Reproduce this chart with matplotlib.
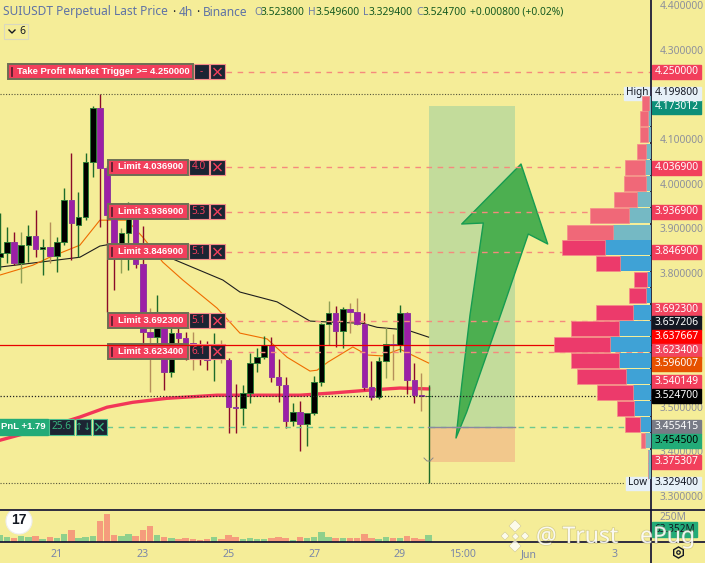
import matplotlib
matplotlib.use("Agg")
import matplotlib.pyplot as plt
import matplotlib.patheffects as pe
from matplotlib.patches import Rectangle, Polygon, Circle
from matplotlib.transforms import blended_transform_factory

plt.rcParams['font.family'] = ['Noto Sans', 'DejaVu Sans']

# candles, one per 4h bar
opens = [3.835, 3.844, 3.869, 3.822, 3.862, 3.882, 3.853, 3.858, 3.838, 3.869,
         3.963, 3.907, 3.925, 4.048, 4.169, 4.035, 3.923, 3.851, 3.889, 3.923,
         3.820, 3.667, 3.656, 3.712, 3.578, 3.665, 3.654, 3.643, 3.638, 3.620,
         3.620, 3.638, 3.605, 3.500, 3.497, 3.531, 3.598, 3.611, 3.638, 3.567,
         3.549, 3.468, 3.488, 3.461, 3.486, 3.555, 3.685, 3.710, 3.670, 3.719,
         3.712, 3.685, 3.544, 3.522, 3.602, 3.640, 3.638, 3.710, 3.560, 3.526, 3.5238]
highs = [3.934, 3.903, 3.891, 3.891, 3.907, 3.941, 3.876, 3.914, 3.880, 3.990,
         4.068, 3.981, 4.068, 4.174, 4.1998, 4.040, 3.930, 3.900, 3.958, 3.952,
         3.905, 3.721, 3.750, 3.712, 3.676, 3.676, 3.667, 3.667, 3.649, 3.647,
         3.665, 3.649, 3.609, 3.551, 3.549, 3.620, 3.631, 3.658, 3.656, 3.607,
         3.567, 3.508, 3.513, 3.486, 3.569, 3.687, 3.737, 3.726, 3.723, 3.732,
         3.743, 3.710, 3.602, 3.611, 3.678, 3.663, 3.728, 3.712, 3.598, 3.575, 3.5496]
lows = [3.806, 3.822, 3.817, 3.777, 3.824, 3.835, 3.795, 3.822, 3.802, 3.862,
        3.829, 3.835, 3.918, 4.014, 3.903, 3.712, 3.761, 3.799, 3.806, 3.811,
        3.643, 3.533, 3.638, 3.537, 3.567, 3.643, 3.605, 3.582, 3.593, 3.582,
        3.558, 3.598, 3.441, 3.441, 3.459, 3.508, 3.578, 3.607, 3.555, 3.510,
        3.452, 3.457, 3.401, 3.412, 3.481, 3.546, 3.638, 3.634, 3.631, 3.665,
        3.683, 3.537, 3.515, 3.517, 3.564, 3.560, 3.623, 3.528, 3.508, 3.490, 3.3294]
closes = [3.844, 3.869, 3.822, 3.862, 3.882, 3.853, 3.858, 3.838, 3.869, 3.963,
          3.911, 3.925, 4.048, 4.169, 4.035, 3.929, 3.862, 3.889, 3.923, 3.820,
          3.667, 3.656, 3.712, 3.578, 3.665, 3.654, 3.643, 3.623, 3.614, 3.605,
          3.627, 3.609, 3.499, 3.498, 3.531, 3.598, 3.611, 3.638, 3.567, 3.549,
          3.468, 3.488, 3.461, 3.486, 3.555, 3.685, 3.710, 3.670, 3.719, 3.712,
          3.685, 3.544, 3.522, 3.602, 3.640, 3.638, 3.710, 3.560, 3.526, 3.5238, 3.5247]
volumes = [64, 48, 38, 54, 45, 54, 29, 45, 38, 74, 112, 38, 45, 54, 198, 266, 64, 54, 74, 58,
           112, 157, 64, 51, 38, 26, 38, 29, 19, 26, 51, 29, 64, 51, 29, 35, 29, 29, 38, 45,
           38, 22, 45, 35, 51, 96, 51, 38, 42, 42, 35, 74, 38, 29, 48, 38, 38, 58, 38, 29, 64]
faint_bars = [3, 7, 17, 21, 27, 31, 46, 49, 50, 54, 55, 59]

# moving averages read at a few bars
red_ma_x = [0, 4.6, 9.8, 11.2, 15, 18.6, 23.4, 30.4, 42, 46.6, 51.4, 56, 60]
red_ma = [3.425, 3.445, 3.470, 3.477, 3.499, 3.510, 3.519, 3.526, 3.526, 3.531, 3.537, 3.542, 3.540]
black_ma_x = [0, 4.6, 11.2, 14, 15.4, 24.2, 31.2, 33.6, 38.8, 43.4, 45.9, 50.8, 52.8, 57, 60]
black_ma = [3.813, 3.822, 3.835, 3.860, 3.864, 3.831, 3.784, 3.757, 3.735, 3.692, 3.690, 3.687,
            3.678, 3.672, 3.656]
orange_ma_x = [0, 4.6, 7, 11.2, 14, 17.8, 20, 22.8, 25.6, 30.4, 33.6, 37.4, 40.2, 43.4, 44.4,
               45.9, 49.4, 51.4, 53.5, 56, 60]
orange_ma = [3.795, 3.817, 3.835, 3.862, 3.918, 3.918, 3.880, 3.824, 3.784, 3.721, 3.665, 3.652,
             3.611, 3.580, 3.582, 3.600, 3.634, 3.616, 3.614, 3.629, 3.598]

# volume profile, rows top to bottom
profile_prices = [4.180, 4.146, 4.109, 4.072, 4.036, 4.000, 3.964, 3.928, 3.891, 3.857, 3.821, 3.785,
                  3.749, 3.711, 3.675, 3.639, 3.603, 3.568, 3.532, 3.496, 3.460, 3.424, 3.386, 3.356]
profile_up = [2, 3.3, 3.3, 5, 6, 5, 14.3, 22, 38.3, 46, 31, 4,
              5, 18.3, 32, 41, 32, 25, 18.3, 17, 11, 6, 3, 3]
profile_down = [6.7, 7.7, 7.7, 9, 20, 22, 23, 39, 45.7, 43.3, 24, 13.3,
                17, 36.7, 48, 56, 48, 49, 36, 17.3, 15.3, 4.3, 0, 0]
profile_strong = [False] * 9 + [True] * 12 + [False] * 3

# orders and levels
take_profit = 4.25
limit_prices = [4.0369, 3.9369, 3.8469, 3.6923, 3.6234]
limit_qty = ["4.0", "5.3", "5.1", "5.1", "6.1"]
entry_price = 3.4545
last_price = 3.5247
high_price = 4.1998
low_price = 3.3294
mark_price = 3.637667
target_top = 4.173012
stop_bottom = 3.375307

price_ticks = [4.4, 4.3, 4.1, 4.0, 3.9, 3.8, 3.5, 3.4, 3.3]
date_ticks = [8, 20, 32, 44, 56, 64.8, 74, 86]
date_labels = ["21", "23", "25", "27", "29", "15:00", "Jun", "3"]

# price tags on the right scale: text, fill, text colour
tag_texts = ["4.250000", "4.173012", "4.036900", "3.936900", "3.846900", "3.692300", "3.657206",
             "3.637667", "3.623400", "3.596007", "3.540149", "3.524700", "3.455415", "3.454500", "3.375307"]
tag_fills = ["#f23f5c", "#0d8f78", "#f23f5c", "#f23f5c", "#f23f5c", "#f2455f", "#131722",
             "#ff0000", "#f2455f", "#e65100", "#f23f5c", "#000000", "#787b86", "#22ab78", "#f23f5c"]
tag_centers = [72, 107, 168, 212, 252, 309.5, 323, 337, 350.5, 364, 382, 396, 427, 441, 462]

BG = "#f5ed98"
W, H = 705, 563
BOLD = ['Liberation Sans', 'DejaVu Sans']

fig = plt.figure(figsize=(W / 100, H / 100), dpi=100, facecolor=BG)
ax = fig.add_axes([0, (H - 510) / H, 651 / W, 510 / H], facecolor=BG)
ax_vol = fig.add_axes([0, (H - 542) / H, 651 / W, 31 / H], facecolor=BG)
over = fig.add_axes([0, 0, 1, 1], facecolor="none")
over.set_xlim(0, W)
over.set_ylim(H, 0)
over.axis("off")

x_range = (0.024, 91.12)
ax.set_xlim(*x_range)
ax.set_ylim(3.2688, 4.4112)
for a in (ax, ax_vol):
    for s in a.spines.values():
        s.set_visible(False)
ax.set_xticks([])
ax.yaxis.tick_right()
ax.set_yticks(price_ticks)
ax.set_yticklabels([f"{p:.6f}" for p in price_ticks], color="#8d909c", fontsize=7.4)
ax.tick_params(axis="y", length=0, pad=6)

xbars = list(range(len(opens)))
# position tool goes under the candles' last wick
ax.axhspan(entry_price, target_top, xmin=(60.05 - x_range[0]) / (x_range[1] - x_range[0]),
           xmax=(72.1 - x_range[0]) / (x_range[1] - x_range[0]), color="#c3dc9b", lw=0, zorder=1)
ax.axhspan(stop_bottom, entry_price, xmin=(60.05 - x_range[0]) / (x_range[1] - x_range[0]),
           xmax=(72.1 - x_range[0]) / (x_range[1] - x_range[0]), color="#f2c88c", lw=0, zorder=1)

ax.plot(red_ma_x, red_ma, color="#f23658", lw=2.4, zorder=2.5)
ax.plot(black_ma_x, black_ma, color="#1e1e1e", lw=0.8, zorder=2.6)
ax.plot(orange_ma_x, orange_ma, color="#ef6c00", lw=0.8, zorder=2.6)

for i in xbars:
    bull = closes[i] >= opens[i]
    if i in faint_bars:
        wick = "#8f9f55" if bull else "#b58f5a"
    else:
        wick = "#1d6b2a" if bull else "#8a0a2a"
    ax.vlines(i, lows[i], highs[i], color=wick, lw=1.0, zorder=3)
    bottom = min(opens[i], closes[i])
    height = max(abs(closes[i] - opens[i]), 0.001)
    ax.bar(i, height, bottom=bottom, width=0.78, zorder=4,
           color="#000000" if bull else "#9c1fa6",
           edgecolor="#2c7a34" if bull else "#8f3a9c", lw=0.7)

# volume profile hangs from the right edge, width in its own units
ax_p = ax.twiny()
ax_p.set_xlim(651, 0)
ax_p.axis("off")
for p, u, d, strong in zip(profile_prices, profile_up, profile_down, profile_strong):
    ax_p.barh(p, u, height=0.034, color="#3fa2d6" if strong else "#75b9c4", zorder=2)
    ax_p.barh(p, d, left=u, height=0.034, color="#ec3a6b" if strong else "#f06878",
              edgecolor="#f58a8a", lw=0.5, zorder=2)

# price levels
ypx = blended_transform_factory(over.transData, ax.transData)
over.plot([226, 651], [take_profit] * 2, transform=ypx, color="#f58a7d", lw=1, dashes=(4, 4))
for p in limit_prices:
    over.plot([226, 651], [p, p], transform=ypx, color="#f58a7d", lw=1, dashes=(4, 4))
over.plot([107, 651], [entry_price] * 2, transform=ypx, color="#6ec98f", lw=1, dashes=(4, 4))
over.plot([428, 515], [entry_price] * 2, transform=ypx, color="#8a8aa0", lw=1)
over.plot([0, 623], [high_price] * 2, transform=ypx, color="#55553a", lw=0.8, ls=(0, (1, 1.5)))
over.plot([0, 625], [low_price] * 2, transform=ypx, color="#55553a", lw=0.8, ls=(0, (1, 1.5)))
over.plot([0, 651], [last_price] * 2, transform=ypx, color="#222222", lw=0.9, ls=(0, (1, 1.5)))

# arrow drawing
arrow_x = [456, 461.7, 470, 483.3, 461.7, 521, 547.7, 528.3, 503, 466.7]
arrow_y = [438, 385, 315, 223, 224, 164, 244, 234, 308, 412]
over.add_patch(Polygon(list(zip(arrow_x, arrow_y)), closed=True, facecolor="#4caf50",
                       edgecolor="#169c50", lw=1, joinstyle="round"))
over.plot([424, 427, 430, 433], [458, 461, 461, 458], color="#8a8a8a", lw=0.7)
over.plot([0, 651], [mark_price] * 2, transform=ypx, color="#e80000", lw=0.9)


def box(x0, x1, y0, y1, fill, edge=None, lw=1.0):
    over.add_patch(Rectangle((x0, y0), x1 - x0, y1 - y0, facecolor=fill, edgecolor=edge or fill, lw=lw))


def cross(xc, yc, color, r=3.5):
    over.plot([xc - r, xc + r], [yc - r, yc + r], color=color, lw=1)
    over.plot([xc - r, xc + r], [yc + r, yc - r], color=color, lw=1)


def order_label(y, x0, x1, text, qty, size):
    box(x0, x1, y - 7.5, y + 7.5, "#f23f5c", "#6e6e55", 1.4)
    over.plot([x0 + 4, x0 + 4], [y - 4, y + 4], color="#5a1f30", lw=1.3)
    over.text((x0 + 6 + x1) / 2, y - 0.3, text, color="white", fontsize=size, fontweight="bold",
              ha="center", va="center", family=BOLD)
    box(x1 + 1, 208.5, y - 7.5, y + 7.5, "#1c2433", "#f58a8a", 0.8)
    over.text((x1 + 209.5) / 2, y - 0.3, qty, color="#f23f5c", fontsize=7.2, ha="center", va="center")
    box(210, 225, y - 7.5, y + 7.5, "#1c2433", "#f58a8a", 0.8)
    cross(217.5, y, "#f23f5c")


to_px = lambda price: over.transData.inverted().transform(ax.transData.transform((0, price)))[1]
order_label(to_px(take_profit), 8, 193, "Take Profit Market Trigger >= 4.250000", "-", 6.8)
for p, q in zip(limit_prices, limit_qty):
    order_label(to_px(p), 108, 188, f"Limit {p:.6f}", q, 6.8)

# position line label
yp = to_px(entry_price)
box(-2, 48, yp - 8, yp + 8, "#22ab78")
over.text(1, yp - 0.5, "PnL +1.79", color="white", fontsize=6.8, fontweight="bold", va="center", family=BOLD)
box(49, 74, yp - 8, yp + 8, "#1c2433", "#4fc08d", 0.8)
over.text(61.5, yp - 0.5, "25.6", color="#37b37e", fontsize=7.2, ha="center", va="center")
box(75.5, 91, yp - 8, yp + 8, "#1c2433", "#4fc08d", 0.8)
over.text(83, yp - 0.5, "↑↓", color="#37b37e", fontsize=7, ha="center", va="center",
          family=["DejaVu Sans"])
box(92.5, 107, yp - 8, yp + 8, "#1c2433", "#4fc08d", 0.8)
cross(99.5, yp, "#37b37e")

# right scale tags
for text, fill, yc in zip(tag_texts, tag_fills, tag_centers):
    box(652, 701, yc - 7, yc + 7, fill)
    over.text(676.5, yc - 0.3, text, color="black" if text == "3.454500" else "white", fontsize=7.4,
              ha="center", va="center")
for label, value, yc, x0 in [("High", "4.199800", 93, 624), ("Low", "3.329400", 483, 626)]:
    box(x0, 650, yc - 6.5, yc + 6.5, "#e6f0f8")
    over.text((x0 + 650) / 2, yc - 0.3, label, color="#131722", fontsize=7.2, ha="center", va="center")
    box(652, 701, yc - 6.5, yc + 6.5, "#e6f0f8")
    over.text(676.5, yc - 0.3, value, color="#131722", fontsize=7.4, ha="center", va="center")

# volume pane
ax_vol.set_xlim(*x_range)
ax_vol.set_ylim(0, 298)
vol_colors = ["#8fd08c" if c >= o else "#f59c7c" for o, c in zip(opens, closes)]
ax_vol.bar(xbars, volumes, width=0.9, color=vol_colors)
ax_vol.yaxis.tick_right()
ax_vol.set_yticks([250])
ax_vol.set_yticklabels(["250M"], color="#8d909c", fontsize=7.4)
ax_vol.tick_params(axis="y", length=0, pad=6)
ax_vol.set_xticks(date_ticks)
ax_vol.set_xticklabels(date_labels, color="#7a86a8", fontsize=7.6)
ax_vol.tick_params(axis="x", length=0, pad=5)
box(652, 697, 522, 537, "#22ab78")
over.text(674.5, 529.5, "63.352M", color="#131722", fontsize=7.2, ha="center", va="center")

# frame lines
over.axvline(651, color="#0c0c30", lw=1.2)
over.axhline(510, color="#0c0c30", lw=1.2)
over.axhline(542, color="#0c0c30", lw=1.2)

# header
over.text(3, 12, "SUIUSDT Perpetual Last Price", color="#5f73a5", fontsize=8.6, va="center")
over.text(172, 12, "·", color="#131722", fontsize=8.6, va="center", fontweight="bold")
over.text(179, 12, "4h", color="#5f73a5", fontsize=8.6, va="center")
over.text(196, 12, "·", color="#131722", fontsize=8.6, va="center", fontweight="bold")
over.text(203, 12, "Binance", color="#5f73a5", fontsize=8.6, va="center")
for key, val, xk, xv in [("O", "3.523800", 254, 261), ("H", "3.549600", 308, 316),
                         ("L", "3.329400", 363, 369), ("C", "3.524700", 416, 423)]:
    over.text(xk, 12.5, key, color="#6a7aa8", fontsize=7.4, va="center")
    over.text(xv, 12.5, val, color="#155a20", fontsize=7.4, va="center")
over.text(470, 12.5, "+0.000800 (+0.02%)", color="#155a20", fontsize=7.4, va="center")

# collapsed indicators button
over.add_patch(Rectangle((4, 24), 24, 15, facecolor=BG, edgecolor="#d8d8c0", lw=0.8))
over.plot([9, 12, 15], [30, 33, 30], color="#131722", lw=1)
over.text(22, 31.5, "6", color="#131722", fontsize=7.4, ha="center", va="center")

# tradingview badge, cut by the pane line
badge = Circle((19, 521), 13, facecolor="white", edgecolor="#eeeeee", lw=0.8, zorder=0.5)
over.add_patch(badge)
badge.set_clip_path(Rectangle((0, 511), 60, 40, transform=over.transData))
over.text(19, 519.5, "17", color="#131722", fontsize=10, fontweight="bold", ha="center", va="center", family=BOLD)

# settings glyph
over.plot([678], [552], marker="h", ms=8, mfc="none", mec="#131722", mew=1)
over.plot([678], [552], marker="o", ms=2.5, mfc="none", mec="#131722", mew=0.9)

# watermark
shadow = [pe.withStroke(linewidth=1.2, foreground="#a8a070", alpha=0.35)]
for xc, yc, s in [(515, 526, 6), (505, 536, 4), (525, 536, 4), (515, 546, 6), (515, 536, 3.5)]:
    over.plot([xc], [yc], marker="D", ms=s, mfc="#ffffff", mec="#b8b080", mew=0.3, alpha=0.8)
over.text(536, 537, "@ Trust", color="white", alpha=0.85, fontsize=16.5, va="center", path_effects=shadow)
over.text(640, 537, "ePug", color="white", alpha=0.85, fontsize=16.5, va="center", path_effects=shadow)

fig.savefig("out.png", dpi=100, facecolor=BG)
